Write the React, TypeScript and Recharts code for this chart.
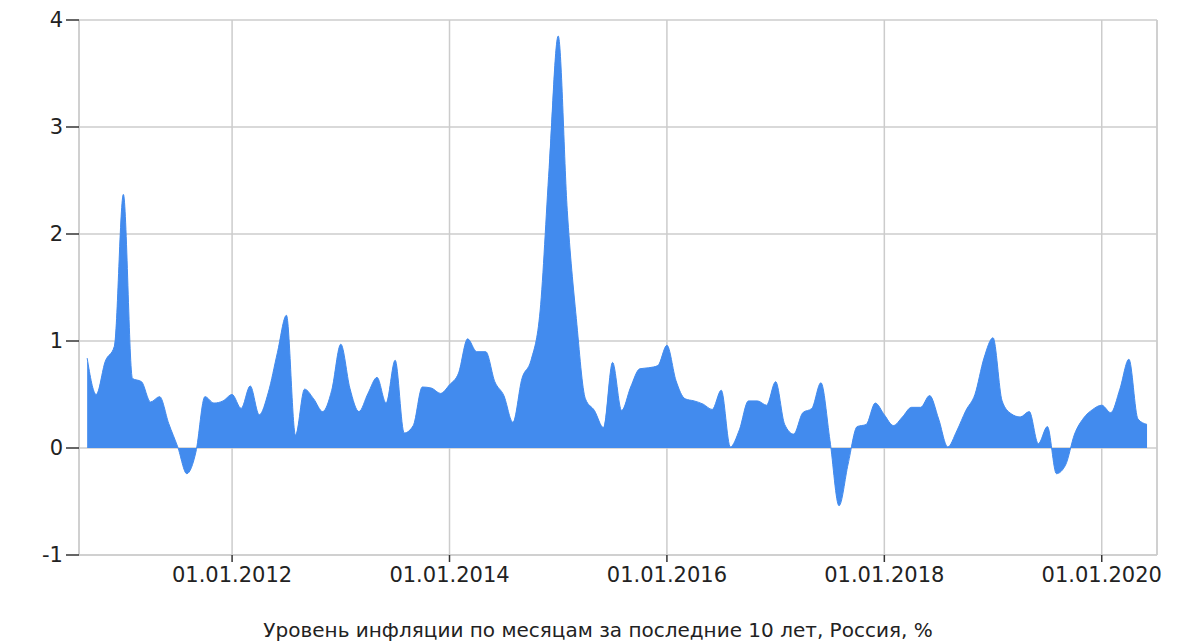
import React from 'react';
import { AreaChart, Area, XAxis, YAxis, CartesianGrid, ReferenceLine, Label } from 'recharts';

const months: string[] = [
  '2010-09','2010-10','2010-11','2010-12',
  '2011-01','2011-02','2011-03','2011-04','2011-05','2011-06','2011-07','2011-08','2011-09','2011-10','2011-11','2011-12',
  '2012-01','2012-02','2012-03','2012-04','2012-05','2012-06','2012-07','2012-08','2012-09','2012-10','2012-11','2012-12',
  '2013-01','2013-02','2013-03','2013-04','2013-05','2013-06','2013-07','2013-08','2013-09','2013-10','2013-11','2013-12',
  '2014-01','2014-02','2014-03','2014-04','2014-05','2014-06','2014-07','2014-08','2014-09','2014-10','2014-11','2014-12',
  '2015-01','2015-02','2015-03','2015-04','2015-05','2015-06','2015-07','2015-08','2015-09','2015-10','2015-11','2015-12',
  '2016-01','2016-02','2016-03','2016-04','2016-05','2016-06','2016-07','2016-08','2016-09','2016-10','2016-11','2016-12',
  '2017-01','2017-02','2017-03','2017-04','2017-05','2017-06','2017-07','2017-08','2017-09','2017-10','2017-11','2017-12',
  '2018-01','2018-02','2018-03','2018-04','2018-05','2018-06','2018-07','2018-08','2018-09','2018-10','2018-11','2018-12',
  '2019-01','2019-02','2019-03','2019-04','2019-05','2019-06','2019-07','2019-08','2019-09','2019-10','2019-11','2019-12',
  '2020-01','2020-02','2020-03','2020-04','2020-05','2020-06',
];

const inflation: number[] = [
  0.84, 0.50, 0.81, 0.95,
  2.37, 0.65, 0.62, 0.43, 0.48, 0.23, 0.01, -0.24, -0.04, 0.48, 0.42, 0.44,
  0.50, 0.37, 0.58, 0.31, 0.52, 0.89, 1.24, 0.12, 0.55, 0.46, 0.34, 0.54,
  0.97, 0.56, 0.34, 0.51, 0.66, 0.42, 0.82, 0.14, 0.21, 0.57, 0.56, 0.51,
  0.59, 0.70, 1.02, 0.90, 0.90, 0.62, 0.49, 0.24, 0.65, 0.82, 1.28, 2.62,
  3.85, 2.22, 1.21, 0.46, 0.35, 0.19, 0.80, 0.35, 0.57, 0.74, 0.75, 0.77,
  0.96, 0.63, 0.46, 0.44, 0.41, 0.36, 0.54, 0.01, 0.17, 0.44, 0.44, 0.40,
  0.62, 0.22, 0.13, 0.33, 0.37, 0.61, 0.07, -0.54, -0.15, 0.20, 0.22, 0.42,
  0.31, 0.21, 0.29, 0.38, 0.38, 0.49, 0.27, 0.01, 0.16, 0.35, 0.50, 0.84,
  1.03, 0.44, 0.32, 0.29, 0.34, 0.04, 0.20, -0.24, -0.16, 0.13, 0.28, 0.36,
  0.40, 0.33, 0.55, 0.83, 0.27, 0.22,
];

const xTickLabels: string[] = ['01.01.2012', '01.01.2014', '01.01.2016', '01.01.2018', '01.01.2020'];
const yTicks: number[] = [-1, 0, 1, 2, 3, 4];
const title = 'Уровень инфляции по месяцам за последние 10 лет, Россия, %';

const monthIndex = (s: string) => {
  const [y, m] = s.split('-').map(Number);
  return (y - 2010) * 12 + (m - 1);
};
const labelIndex = (s: string) => {
  const [d, m, y] = s.split('.').map(Number);
  return (y - 2010) * 12 + (m - 1) + (d - 1) / 30;
};

const data = months.map((m, i) => ({ t: monthIndex(m), v: inflation[i] }));
const xTicks = xTickLabels.map(labelIndex);
const xDomain: [number, number] = [7.1, 126.1];

const FONT = '"DejaVu Sans", Verdana, sans-serif';

const TitleLabel = (props: any) => {
  const vb = props.viewBox || {};
  const cx = (vb.x ?? 0) + (vb.width ?? 0) / 2 - 20;
  const by = (vb.y ?? 0) + (vb.height ?? 0) - 6;
  return (
    <text x={cx} y={by} textAnchor="middle" fill="#222" fontSize={20} fontFamily={FONT}>
      {title}
    </text>
  );
};

export default function App() {
  return (
    <div style={{ width: 1200, height: 643, background: '#fff' }}>
      <style>{'body{margin:0;overflow:hidden;}'}</style>
      <AreaChart
        width={1200}
        height={643}
        data={data}
        margin={{ top: 20, right: 43, bottom: 0, left: 0 }}
        style={{ fontFamily: FONT }}
      >
        <CartesianGrid stroke="#cccccc" strokeWidth={1.5} />
        <XAxis
          dataKey="t"
          type="number"
          domain={xDomain}
          ticks={xTicks}
          allowDataOverflow
          height={88}
          tickSize={7}
          tickMargin={5}
          tickFormatter={(v: number) => xTickLabels[xTicks.indexOf(v)] ?? ''}
          tick={{ fill: '#222', fontSize: 21, fontFamily: FONT }}
          axisLine={{ stroke: '#cccccc', strokeWidth: 1.5 }}
          tickLine={{ stroke: '#333', strokeWidth: 1.5 }}
        >
          <Label content={TitleLabel} />
        </XAxis>
        <YAxis
          type="number"
          domain={[-1, 4]}
          ticks={yTicks}
          width={79}
          tickSize={13}
          tickMargin={3}
          tick={{ fill: '#222', fontSize: 21, fontFamily: FONT }}
          axisLine={{ stroke: '#cccccc', strokeWidth: 1.5 }}
          tickLine={{ stroke: '#333', strokeWidth: 1.5 }}
        />
        <ReferenceLine x={xDomain[1]} stroke="#cccccc" strokeWidth={1.5} />
        <Area
          type="monotone"
          dataKey="v"
          stroke="#428bee"
          strokeWidth={1}
          fill="#428bee"
          fillOpacity={1}
          isAnimationActive={false}
          dot={false}
          activeDot={false}
        />
      </AreaChart>
    </div>
  );
}
